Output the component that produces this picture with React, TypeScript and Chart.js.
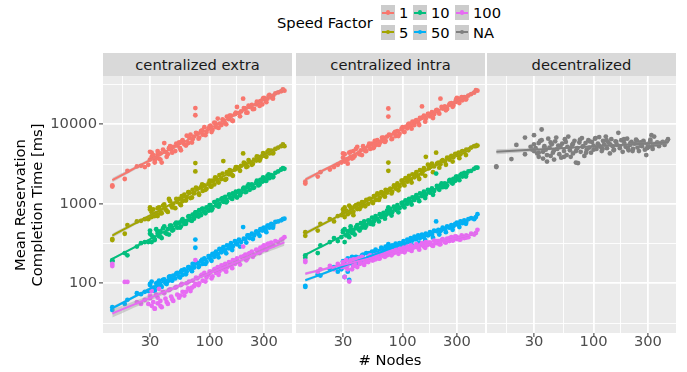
import React, { useEffect, useRef } from 'react';
import { Chart, registerables } from 'chart.js';

Chart.register(...registerables);

// ---------- data ----------
const NODES = [14,14,18,19,23,25,27,30,31,31,32,33,34,35,36,37,38,40,41,43,44,46,48,50,52,54,56,58,60,63,65,68,71,73,75,75,78,81,84,87,90,94,98,102,106,110,114,118,122,127,132,137,142,148,154,160,167,174,181,189,197,206,215,225,235,246,257,268,279,290,300,310,322,335,348,362,378,400,425,454,
  29,30,33,35,37,39,42,45,47,51, 55,57,62,66,70,76,80,86,92,100, 104,112,120,130,140,150,158,170,185,200, 210,220,240,260,275,295,315,330,360,440];

// centralized extra
const CE_1 = [1700,1650,2050,2600,2950,3000,2900,3600,4400,3900, 4100,3500,3800,4600,3700,4300,3300,5800,4500,4200, 5000,4800,5200,4600,5400,5900,4700,6300,5600,7200, 5800,7400,6500,7000,16000,13000,7600,6800,8200,7400, 9200,8000,8800,9600,8500,10500,9200,11800,10200,9800, 11200,10300,12500,11600,12800,11000,13400,16500,13800,14500, 21000,15800,14000,16600,17500,15600,17800,18800,19500,17800, 21500,19800,21000,23500,21800,22800,24500,25200,26000,26500,
  3100,4500,3300,4200,3600,4800,3900,5300,4400,5700, 5000,6100,5400,6900,5900,7800,6600,8400,7300,9400, 8000,10300,9000,11500,10000,12800,11200,14000,12600,16000, 14000,17200,15500,19200,17000,21200,19000,22800,21000,27500];
const CE_5 = [360,350,420,540,600,610,640,900,780,680, 850,720,760,700,900,820,760,980,850,790, 1150,950,1000,880,1050,1150,960,1080,1300,1200, 1400,1180,1500,1350,3250,2550,1550,1300,1620,1450, 1700,1550,1800,1650,1950,1750,2100,1900,2300,2050, 3450,2000,2500,2350,2600,2250,2700,2900,2750,3000, 4300,3200,2950,3350,3100,3600,3500,3900,3700,4000, 4200,4000,4500,4300,4650,4400,4900,5100,5300,5300,
  640,850,700,880,760,950,820,1080,900,1150, 1000,1250,1100,1400,1200,1600,1350,1750,1500,1950, 1650,2150,1850,2400,2050,2650,2300,2900,2600,3300, 2900,3550,3200,3950,3500,4350,3900,4700,4300,5600];
const CE_10 = [190,195,240,225,290,320,330,460,330,400, 380,350,480,420,390,450,370,520,430,480, 410,530,470,560,500,580,520,640,560,610, 690,620,730,650,780,700,740,830,720,870, 780,900,820,960,870,1050,950,1100,980,1150, 1060,1220,1080,1300,1180,1350,1250,1200,1450,1380, 1550,1400,1650,1500,1750,1600,1850,1700,2000,1900, 2100,1950,2250,2100,2300,2200,2450,2550,2700,2750,
  330,420,360,450,390,490,420,530,460,580, 500,620,560,700,610,780,690,860,760,960, 830,1050,920,1180,1040,1300,1150,1420,1280,1600, 1420,1750,1580,1950,1750,2150,1950,2350,2150,2800];
const CE_50 = [50,46,55,62,75,73,78,95,105,85, 88,80,100,92,108,96,90,112,100,106, 120,110,125,115,135,122,140,128,150,140, 160,150,175,158,355,280,180,165,190,175, 205,185,220,200,235,215,250,230,270,245, 285,255,300,275,320,290,340,310,355,330, 510,360,400,370,420,400,450,420,480,460, 500,470,530,500,560,530,590,600,620,650,
  80,98,84,102,92,110,98,122,108,132, 118,145,130,160,142,182,160,198,175,220, 192,240,212,268,238,295,262,325,290,365, 325,400,360,440,395,490,440,530,500,640];
const CE_100 = [175,165,104,104,58,55,62,65,52,80, 58,48,72,56,85,60,50,75,64,55, 82,68,60,88,72,66,95,78,70,100, 86,80,108,92,196,98,115,100,125,108, 135,118,128,140,122,150,135,160,142,168, 150,175,158,185,165,195,175,205,185,215, 290,230,205,240,250,230,265,245,280,260, 300,275,310,290,325,300,340,330,355,380,
  55,70,48,66,52,78,58,84,63,90, 70,98,78,105,88,118,95,128,105,140, 115,152,128,165,140,180,155,195,172,220, 195,235,215,260,240,290,265,315,300,365];

// centralized intra
const CI_1 = [1800,1900,2200,2500,2700,2900,3100,3800,3400,4200, 3600,3200,4400,3900,3700,4600,4000,5200,4300,4700, 4100,5000,4600,5300,4900,5700,5100,5500,6300,5800, 6100,6800,6200,7000,15800,12500,7300,6600,7700,7100, 8200,7600,8800,8100,9300,8900,10200,9400,10800,9800, 11300,10500,12000,16800,12800,11800,13500,12600,14200,13400, 15000,14200,21000,15800,16800,15600,17500,18500,17200,19000, 21500,19500,21000,20000,22000,21000,23000,24000,25000,26500,
  3300,4300,3600,4500,3800,4900,4200,5300,4600,5700, 5000,6200,5500,6800,6000,7400,6500,8000,7100,9200, 8000,10000,8800,11000,9800,12200,10800,13500,12000,15200, 13600,16500,15000,18200,16600,20500,18500,22000,20500,26800];
const CI_5 = [440,395,460,560,640,600,700,760,900,680, 820,740,950,780,870,720,930,860,1000,920, 1050,960,1120,1000,1150,1060,1250,1120,1350,1200, 1400,1280,1500,1380,3300,2600,1550,1420,1700,1550, 1800,1650,1950,1750,2100,1900,2250,2000,2350,2150, 2500,2250,2650,2400,2800,3900,3100,2900,3200,2950, 4400,3300,3150,3550,3400,3800,3600,4000,3850,4250, 4100,4400,4200,4600,4450,4800,4700,5100,5300,5400,
  720,850,760,900,800,960,860,1040,930,1150, 1020,1250,1120,1370,1230,1500,1350,1650,1480,1950, 1700,2100,1850,2300,2050,2550,2250,2800,2500,3200, 2850,3450,3100,3800,3400,4200,3750,4500,4100,5300];
const CI_10 = [210,225,240,300,330,370,340,440,330,480, 400,450,380,520,430,470,410,540,480,570, 500,600,530,620,560,670,600,700,640,740, 680,770,720,820,900,760,860,780,920,840, 960,880,1020,930,1100,1000,1150,1060,1200,1120, 1280,1180,1350,1250,1420,1300,1500,1380,1560,1450, 2400,1550,1700,1620,1800,1700,1950,1850,2050,1950, 2200,2100,2300,2200,2450,2350,2550,2600,2750,2850,
  380,460,410,480,430,510,460,550,500,610, 550,660,600,720,650,790,710,870,780,1030, 900,1100,980,1200,1080,1330,1180,1450,1300,1680, 1500,1800,1620,2000,1800,2200,1980,2380,2200,2850];
const CI_50 = [93,90,130,125,150,160,140,170,120,190, 160,205,110,180,215,165,195,175,210,190, 225,200,240,210,235,250,220,265,240,255, 280,260,290,270,310,285,275,300,285,315, 295,320,305,340,310,355,330,370,345,385, 360,400,370,410,385,420,400,440,410,460, 600,470,455,500,480,520,500,540,520,560, 580,550,600,570,620,590,640,660,640,740,
  150,190,140,200,170,215,180,230,195,240, 205,250,225,270,240,285,255,300,270,320, 285,340,305,360,325,385,350,410,375,450, 410,470,440,510,470,550,510,590,560,680];
const CI_100 = [192,185,140,150,165,150,175,180,120,160, 195,170,105,190,150,200,175,160,205,180, 215,170,200,185,225,195,215,200,230,205, 240,220,245,225,250,235,230,255,240,265, 245,270,250,280,260,290,265,300,275,285, 310,280,300,320,290,330,305,325,300,345, 320,340,310,360,330,365,340,380,350,390, 360,375,355,390,370,400,380,420,410,470,
  160,185,150,195,165,200,175,210,185,220, 195,225,205,235,215,245,225,255,235,270, 245,280,255,295,265,310,280,325,295,340, 310,350,325,370,345,385,355,400,375,430];

// decentralized
const DEC_NODES = [14,14,19,21,25,25,28,30,30,31, 32,33,33,34,35,36,36,37,38,39, 40,41,42,43,44,45,46,48,49,50, 52,53,55,56,58,59,60,62,63,65, 66,68,70,72,73,75,77,79,81,83, 85,87,90,92,95,97,100,103,106,109, 112,115,118,121,124,128,131,135,139,143, 147,151,156,160,165,170,175,180,186,191, 197,203,209,215,222,229,236,243,250,258, 266,274,282,290,298,306,314,322,330,340, 350,362,375,390,405,420,450,
  29,30,33,35,37,39,42,45,47,51, 55,57,62,66,70,76,80,86,92,100, 104,112,120,130,140,150,158,170,185,200, 210,220,240,260,275,295,315,330,360,440];
const DEC_NA = [2950,2900,3650,5500,4200,6800,5200,7300,4600,5000, 4300,5800,3900,6200,8600,4500,3700,5300,4800,3400, 6600,5100,4000,5600,4400,3600,6100,4900,5400,4200, 3800,5700,4600,6500,4100,5200,7000,4700,3900,5500, 4300,6200,3300,5000,3250,5900,4500,6700,5300,4000, 5800,4800,6300,5100,4400,6000,5400,6600,4900,5700, 6900,5200,4600,6200,5600,7000,5000,5900,4300,6500, 5300,4800,6100,5500,7800,5000,6300,4500,5800,5200, 6600,4700,5500,6000,4900,5700,6400,5100,4600,5900, 5300,6200,4800,4100,5600,5200,6100,7300,5400,7000, 5600,5900,5300,5800,6000,5500,6500,
  4800,5600,4400,6300,5100,4100,5900,4700,6800,5300, 3900,6000,5000,5700,4600,6400,5200,4400,6100,4800, 6700,5400,4900,6300,5600,4700,6000,5300,6500,5000, 5800,4600,6200,5400,5900,5000,6400,4900,5700,6100];

const SPEED_FACTORS = ['1', '5', '10', '50', '100'];
const SF_COLORS = ['#F8766D', '#A3A500', '#00BF7D', '#00B0F6', '#E76BF3'];
const NA_COLOR = '#7F7F7F';
const FACETS = ['centralized extra', 'centralized intra', 'decentralized'];

const X_MAJOR = [30, 100, 300];
const X_MINOR = [17.3205, 54.7723, 173.205];
const Y_MAJOR = [100, 1000, 10000];
const Y_MINOR = [31.6228, 316.228, 3162.28, 31622.8];
const X_MIN = 11.6, X_MAX = 529;
const Y_MIN = 23.7, Y_MAX = 40500;

// ---------- layout ----------
const FONT = '"DejaVu Sans", "Noto Sans", sans-serif';
const FS = 14.7;
const PANEL_LEFTS = [103, 296, 487];
const PANEL_W = 189;
const PANEL_TOP = 76;
const PANEL_H = 257;
const AXIS_H = 39;
const Y_AXIS_W = 103;
const BAND = 'rgba(153,153,153,0.4)';

type Group = { xs: number[]; ys: number[]; color: string };

const near = (v: number, list: number[]) => list.some((m) => Math.abs(v - m) / m < 1e-4);

function fit(xs: number[], ys: number[]) {
  const n = Math.min(xs.length, ys.length);
  const lx: number[] = [], ly: number[] = [];
  for (let i = 0; i < n; i++) { lx.push(Math.log10(xs[i])); ly.push(Math.log10(ys[i])); }
  const mx = lx.reduce((a, b) => a + b, 0) / n;
  const my = ly.reduce((a, b) => a + b, 0) / n;
  let sxx = 0, sxy = 0;
  for (let i = 0; i < n; i++) { sxx += (lx[i] - mx) ** 2; sxy += (lx[i] - mx) * (ly[i] - my); }
  const b = sxy / sxx, a = my - b * mx;
  let sse = 0;
  for (let i = 0; i < n; i++) sse += (ly[i] - a - b * lx[i]) ** 2;
  const s = Math.sqrt(sse / (n - 2));
  const lo = Math.min(...lx), hi = Math.max(...lx);
  const line: any[] = [], lower: any[] = [], upper: any[] = [];
  const K = 40;
  for (let k = 0; k <= K; k++) {
    const L = lo + (hi - lo) * k / K;
    const yh = a + b * L;
    const se = s * Math.sqrt(1 / n + (L - mx) ** 2 / sxx);
    const x = Math.pow(10, L);
    line.push({ x, y: Math.pow(10, yh) });
    lower.push({ x, y: Math.pow(10, yh - 1.98 * se) });
    upper.push({ x, y: Math.pow(10, yh + 1.98 * se) });
  }
  return { line, lower, upper };
}

const bgPlugin = {
  id: 'panelBg',
  beforeDraw(chart: any) {
    const { ctx, chartArea: c } = chart;
    ctx.save();
    ctx.fillStyle = '#EBEBEB';
    ctx.fillRect(c.left, c.top, c.right - c.left, c.bottom - c.top);
    ctx.restore();
  },
};

function buildConfig(groups: Group[], showY: boolean): any {
  const datasets: any[] = [];
  groups.forEach((g, i) => {
    const n = Math.min(g.xs.length, g.ys.length);
    const pts = [];
    for (let k = 0; k < n; k++) pts.push({ x: g.xs[k], y: g.ys[k] });
    datasets.push({
      type: 'scatter', data: pts, backgroundColor: g.color, borderWidth: 0,
      pointRadius: 2.4, pointHoverRadius: 2.4, order: 100 - i,
    });
  });
  groups.forEach((g, i) => {
    const f = fit(g.xs, g.ys);
    datasets.push({ type: 'line', data: f.lower, borderWidth: 0, borderColor: 'rgba(0,0,0,0)', pointRadius: 0, fill: false, order: 20 - 2 * i });
    datasets.push({ type: 'line', data: f.upper, borderWidth: 0, borderColor: 'rgba(0,0,0,0)', pointRadius: 0, fill: '-1', backgroundColor: BAND, order: 20 - 2 * i });
    datasets.push({ type: 'line', data: f.line, borderColor: g.color, borderWidth: 2, pointRadius: 0, fill: false, tension: 0, order: 19 - 2 * i });
  });

  const tickFont = { family: FONT, size: FS, lineHeight: 1.2 };
  return {
    type: 'scatter',
    data: { datasets },
    plugins: [bgPlugin],
    options: {
      responsive: false,
      animation: false,
      devicePixelRatio: 1,
      events: [],
      layout: { padding: 0, autoPadding: false },
      plugins: { legend: { display: false }, tooltip: { enabled: false } },
      scales: {
        x: {
          type: 'logarithmic', min: X_MIN, max: X_MAX,
          afterBuildTicks: (s: any) => { s.ticks = [...X_MINOR, ...X_MAJOR].sort((p, q) => p - q).map((v) => ({ value: v })); },
          afterFit: (s: any) => { s.height = AXIS_H; s.paddingLeft = 0; s.paddingRight = 0; s.paddingTop = 0; s.paddingBottom = 0; },
          ticks: {
            autoSkip: false, maxRotation: 0, minRotation: 0, padding: -4,
            color: '#4D4D4D', font: tickFont,
            callback: (v: any) => (near(Number(v), X_MAJOR) ? String(Math.round(Number(v))) : ''),
          },
          grid: {
            color: '#FFFFFF',
            lineWidth: (ctx: any) => (ctx.tick && near(ctx.tick.value, X_MAJOR) ? 1.8 : 0.9),
            tickLength: 4, tickWidth: 1,
            tickColor: (ctx: any) => (ctx.tick && near(ctx.tick.value, X_MAJOR) ? '#333333' : 'rgba(0,0,0,0)'),
          },
          border: { display: false },
        },
        y: {
          type: 'logarithmic', min: Y_MIN, max: Y_MAX,
          afterBuildTicks: (s: any) => { s.ticks = [...Y_MINOR, ...Y_MAJOR].sort((p, q) => p - q).map((v) => ({ value: v })); },
          afterFit: (s: any) => { s.width = showY ? Y_AXIS_W : 0; s.paddingTop = 0; s.paddingBottom = 0; s.paddingLeft = 0; s.paddingRight = 0; },
          ticks: {
            display: showY, autoSkip: false, padding: 2,
            color: '#4D4D4D', font: tickFont,
            callback: (v: any) => (near(Number(v), Y_MAJOR) ? String(Math.round(Number(v))) : ''),
          },
          grid: {
            color: '#FFFFFF',
            drawTicks: showY,
            lineWidth: (ctx: any) => (ctx.tick && near(ctx.tick.value, Y_MAJOR) ? 1.8 : 0.9),
            tickLength: 4, tickWidth: 1,
            tickColor: (ctx: any) => (ctx.tick && near(ctx.tick.value, Y_MAJOR) ? '#333333' : 'rgba(0,0,0,0)'),
          },
          border: { display: false },
        },
      },
    },
  };
}

function Panel({ groups, index }: { groups: Group[]; index: number }) {
  const ref = useRef<HTMLCanvasElement>(null);
  const showY = index === 0;
  const left = showY ? PANEL_LEFTS[0] - Y_AXIS_W : PANEL_LEFTS[index];
  const width = showY ? PANEL_W + Y_AXIS_W : PANEL_W;
  const height = PANEL_H + AXIS_H;
  useEffect(() => {
    if (!ref.current) return;
    const chart = new Chart(ref.current, buildConfig(groups, showY));
    return () => chart.destroy();
  }, []);
  return (
    <canvas ref={ref} width={width} height={height}
      style={{ position: 'absolute', left, top: PANEL_TOP, width, height }} />
  );
}

const LEGEND_ITEMS = [
  { label: SPEED_FACTORS[0], color: SF_COLORS[0], col: 0, row: 0 },
  { label: SPEED_FACTORS[1], color: SF_COLORS[1], col: 0, row: 1 },
  { label: SPEED_FACTORS[2], color: SF_COLORS[2], col: 1, row: 0 },
  { label: SPEED_FACTORS[3], color: SF_COLORS[3], col: 1, row: 1 },
  { label: SPEED_FACTORS[4], color: SF_COLORS[4], col: 2, row: 0 },
  { label: 'NA', color: NA_COLOR, col: 2, row: 1 },
];
const KEY_LEFTS = [381, 413, 455];
const ROW_TOPS = [5, 24.5];
const KEY_W = 14, KEY_H = 15;

export default function App() {
  const ceGroups: Group[] = [CE_1, CE_5, CE_10, CE_50, CE_100].map((ys, i) => ({ xs: NODES, ys, color: SF_COLORS[i] }));
  const ciGroups: Group[] = [CI_1, CI_5, CI_10, CI_50, CI_100].map((ys, i) => ({ xs: NODES, ys, color: SF_COLORS[i] }));
  const decGroups: Group[] = [{ xs: DEC_NODES, ys: DEC_NA, color: NA_COLOR }];
  const text: React.CSSProperties = { position: 'absolute', fontFamily: FONT, fontSize: FS, whiteSpace: 'nowrap', lineHeight: '17px' };

  return (
    <div style={{ position: 'absolute', left: 0, top: 0, width: 687, height: 372, background: '#FFFFFF', overflow: 'hidden' }}>
      {/* legend */}
      <div style={{ ...text, left: 277, top: 14, color: '#000' }}>Speed Factor</div>
      {LEGEND_ITEMS.map((it) => (
        <React.Fragment key={it.label}>
          <div style={{ position: 'absolute', left: KEY_LEFTS[it.col], top: ROW_TOPS[it.row], width: KEY_W, height: KEY_H, background: '#CCCCCC' }}>
            <div style={{ position: 'absolute', left: 1, top: KEY_H / 2 - 1, width: KEY_W - 2, height: 2, background: it.color }} />
            <div style={{ position: 'absolute', left: KEY_W / 2 - 2.4, top: KEY_H / 2 - 2.4, width: 4.8, height: 4.8, borderRadius: '50%', background: it.color }} />
          </div>
          <div style={{ ...text, left: KEY_LEFTS[it.col] + 18, top: ROW_TOPS[it.row] - 1, color: '#000' }}>{it.label}</div>
        </React.Fragment>
      ))}

      {/* strips */}
      {FACETS.map((f, i) => (
        <div key={f} style={{ ...text, left: PANEL_LEFTS[i], top: 53, width: PANEL_W, height: 23, lineHeight: '23px', background: '#D9D9D9', color: '#1A1A1A', textAlign: 'center' }}>{f}</div>
      ))}

      <Panel groups={ceGroups} index={0} />
      <Panel groups={ciGroups} index={1} />
      <Panel groups={decGroups} index={2} />

      {/* axis titles */}
      <div style={{ ...text, left: 29 - 110, top: 205 - 18, width: 220, height: 36, textAlign: 'center', transform: 'rotate(-90deg)', color: '#000' }}>
        Mean Reservation<br />Completion Time [ms]
      </div>
      <div style={{ ...text, left: 290, top: 351, width: 200, textAlign: 'center', color: '#000' }}># Nodes</div>
    </div>
  );
}
